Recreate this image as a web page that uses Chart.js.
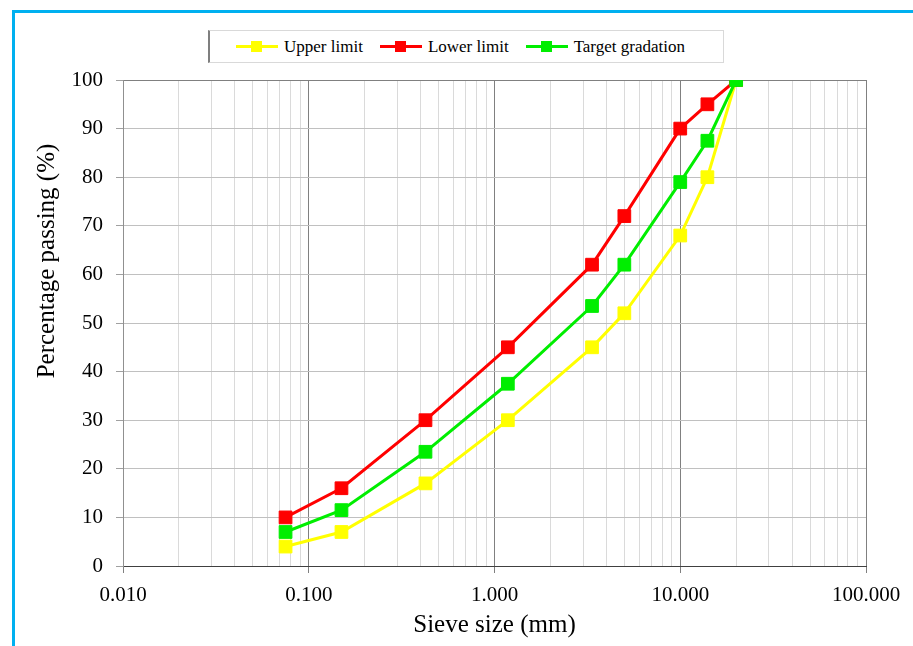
<!DOCTYPE html>
<html>
<head>
<meta charset="utf-8">
<script src="https://cdn.jsdelivr.net/npm/chart.js@4"></script>
<style>
  html, body { margin: 0; padding: 0; background: #fff; }
  #wrap { position: relative; width: 913px; height: 646px; overflow: hidden; font-family: "Liberation Serif", "Times New Roman", serif; }
  #chart { position: absolute; left: 0; top: 0; }
  #frame { position: absolute; left: 12px; top: 10px; width: 960px; height: 700px;
    border-left: 3px solid #00b0f0; border-top: 3px solid #00b0f0; pointer-events: none; }
  #legend { position: absolute; left: 208px; top: 30px; width: 501px; height: 31px; padding-right: 12px;
    border: 1px solid #d9d9d9; border-left: 2px solid #7f7f7f; background: #fff;
    display: flex; align-items: center; justify-content: center; gap: 17px; }
  .item { display: flex; align-items: center; font-size: 17px; color: #000; }
  .swatch { position: relative; width: 42px; height: 3px; margin-right: 6px; }
  .swatch span { position: absolute; left: 15px; top: -4px; width: 11px; height: 11px; }
  #ytitle { position: absolute; left: 46px; top: 261px; transform: translate(-50%, -50%) rotate(-90deg);
    white-space: nowrap; font-size: 25px; color: #000; }
</style>
</head>
<body>
<div id="wrap">
  <canvas id="chart" width="913" height="646"></canvas>
  <div id="legend"></div>
  <div id="ytitle">Percentage passing (%)</div>
  <div id="frame"></div>
</div>
<script>
// sieve sizes (mm)
const sieveSizes = [0.075, 0.15, 0.425, 1.18, 3.35, 5, 10, 14, 20];
const upperLimit = [4, 7, 17, 30, 45, 52, 68, 80, 100];
const lowerLimit = [10, 16, 30, 45, 62, 72, 90, 95, 100];
const targetGradation = [7, 11.5, 23.5, 37.5, 53.5, 62, 79, 87.5, 100];

const seriesNames = ["Upper limit", "Lower limit", "Target gradation"];
const seriesColors = ["#ffff00", "#ff0000", "#00ee00"];

function isDecade(v) {
  const l = Math.log10(v);
  return Math.abs(l - Math.round(l)) < 1e-6;
}

function toPoints(values) {
  return values.map((y, i) => ({ x: sieveSizes[i], y: y }));
}

const seriesValues = [upperLimit, lowerLimit, targetGradation];
const datasets = seriesValues.map((vals, i) => ({
  label: seriesNames[i],
  data: toPoints(vals),
  borderColor: seriesColors[i],
  backgroundColor: seriesColors[i],
  borderWidth: 3,
  pointStyle: 'rect',
  pointRadius: 9,
  pointBorderWidth: 1,
  pointBorderColor: seriesColors[i],
  pointBackgroundColor: seriesColors[i],
  tension: 0,
  order: 2 - i, // target on top
}));

// legend as html
const legend = document.getElementById('legend');
seriesNames.forEach((name, i) => {
  const item = document.createElement('div');
  item.className = 'item';
  item.innerHTML = `<div class="swatch" style="background:${seriesColors[i]}"><span style="background:${seriesColors[i]}"></span></div>${name}`;
  legend.appendChild(item);
});

const xTicks = [];
for (let e = -2; e <= 1; e++) {
  for (let k = 1; k <= 9; k++) {
    xTicks.push(Number((k * Math.pow(10, e)).toPrecision(6)));
  }
}
xTicks.push(100);

new Chart(document.getElementById('chart'), {
  type: 'line',
  data: { datasets: datasets },
  options: {
    responsive: false,
    animation: false,
    events: [],
    layout: { padding: { top: 80, right: 47, left: 0, bottom: 0 } },
    plugins: {
      legend: { display: false },
      tooltip: { enabled: false },
    },
    scales: {
      x: {
        type: 'logarithmic',
        min: 0.01,
        max: 100,
        afterBuildTicks: (scale) => {
          scale.ticks = xTicks.map(v => ({ value: v, major: isDecade(v) }));
        },
        afterFit: (scale) => { scale.height = 80; },
        ticks: {
          autoSkip: false,
          maxRotation: 0,
          padding: 10,
          color: '#000',
          font: { family: 'Liberation Serif', size: 21 },
          callback: (value) => isDecade(value) ? value.toFixed(3) : '',
        },
        grid: {
          color: (ctx) => isDecade(ctx.tick.value) ? '#808080' : '#dadada',
          tickColor: (ctx) => isDecade(ctx.tick.value) ? '#808080' : 'rgba(0,0,0,0)',
          tickLength: 7,
          lineWidth: 1,
        },
        border: { color: '#404040', width: 1 },
        title: {
          display: true,
          text: 'Sieve size (mm)',
          color: '#000',
          font: { family: 'Liberation Serif', size: 25 },
          padding: { top: 0, bottom: 6 },
        },
      },
      y: {
        min: 0,
        max: 100,
        afterFit: (scale) => { scale.width = 123; },
        ticks: {
          stepSize: 10,
          padding: 13,
          color: '#000',
          font: { family: 'Liberation Serif', size: 21 },
        },
        grid: {
          color: (ctx) => ctx.tick.value === 100 ? '#808080' : '#c0c0c0',
          tickColor: '#a0a0a0',
          tickLength: 7,
        },
        border: { color: '#909090', width: 1 },
      },
    },
  },
});
</script>
</body>
</html>
